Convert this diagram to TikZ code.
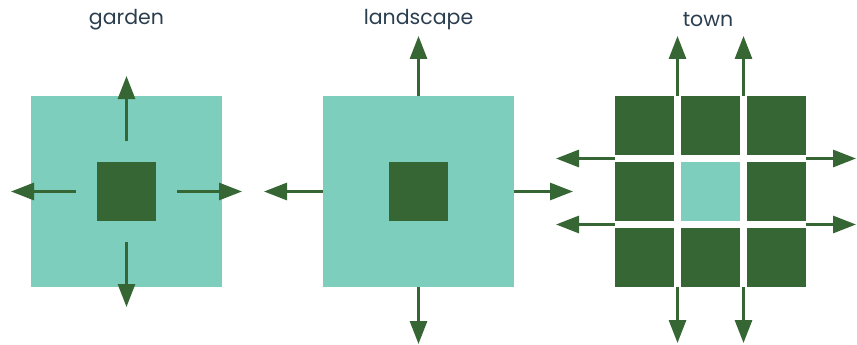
\documentclass[tikz,border=0pt]{standalone}
\usepackage{fontspec}
\setmainfont{Poppins}
\usetikzlibrary{arrows.meta,calc}
\definecolor{plotlight}{HTML}{7DCEBC}
\definecolor{plotdark}{HTML}{356633}
\definecolor{labelink}{HTML}{2B3E50}
\tikzset{
	plot/.style={draw=none, inner sep=0pt, outer sep=0pt},
	openplot/.style={plot, fill=plotlight, minimum size=191pt},
	coreplot/.style={plot, fill=plotdark, minimum size=59pt},
	townplot/.style={plot, fill=plotdark, minimum size=59pt},
	spread/.style={-{Triangle[length=23pt, width=17pt]}, line width=3pt, draw=plotdark},
	title/.style={font=\fontsize{20.5}{22}\selectfont, text=labelink, inner sep=0pt}
}

\begin{document}
\begin{tikzpicture}[x=1pt, y=-1pt]
	\useasboundingbox (0,0) rectangle (857,345);
	% garden
	\node[title] (gardentitle) at (126.5,20) {garden};
	\node[openplot] (gardenbox) at (126.5,191.5) {};
	\node[coreplot] (gardencore) at (126.5,191.5) {};
	\draw[spread] ([yshift=21pt]gardencore.north) -- ([yshift=86pt]gardencore.north);
	\draw[spread] ([yshift=-21pt]gardencore.south) -- ([yshift=-86pt]gardencore.south);
	\draw[spread] ([xshift=-21pt]gardencore.west) -- ([xshift=-86pt]gardencore.west);
	\draw[spread] ([xshift=21pt]gardencore.east) -- ([xshift=86pt]gardencore.east);
	% landscape
	\node[title] (landtitle) at (418.5,20) {landscape};
	\node[openplot] (landbox) at (418.5,191.5) {};
	\node[coreplot] (landcore) at (418.5,191.5) {};
	\draw[spread] (landbox.north) -- ([yshift=60pt]landbox.north);
	\draw[spread] (landbox.south) -- ([yshift=-57pt]landbox.south);
	\draw[spread] (landbox.west) -- ([xshift=-59pt]landbox.west);
	\draw[spread] (landbox.east) -- ([xshift=59pt]landbox.east);
	% town
	\node[title] (towntitle) at (708,20) {town};
	\foreach \col in {1,2,3}
		\foreach \row in {1,2,3}
			\node[townplot] (town-\col-\row) at ({644.5+66*(\col-1)},{125.5+66*(\row-1)}) {};
	\node[townplot, fill=plotlight] at (town-2-2) {};
	\foreach \col/\next in {1/2,2/3} {
		\coordinate (street-top-\col) at ($(town-\col-1.north east)!0.5!(town-\next-1.north west)$);
		\coordinate (street-bot-\col) at ($(town-\col-3.south east)!0.5!(town-\next-3.south west)$);
		\draw[spread] (street-top-\col) -- ([yshift=60pt]street-top-\col);
		\draw[spread] (street-bot-\col) -- ([yshift=-56pt]street-bot-\col);
	}
	\foreach \row/\next in {1/2,2/3} {
		\coordinate (street-left-\row) at ($(town-1-\row.south west)!0.5!(town-1-\next.north west)$);
		\coordinate (street-right-\row) at ($(town-3-\row.south east)!0.5!(town-3-\next.north east)$);
		\draw[spread] (street-left-\row) -- ([xshift=-59pt]street-left-\row);
		\draw[spread] (street-right-\row) -- ([xshift=50pt]street-right-\row);
	}
\end{tikzpicture}
\end{document}
